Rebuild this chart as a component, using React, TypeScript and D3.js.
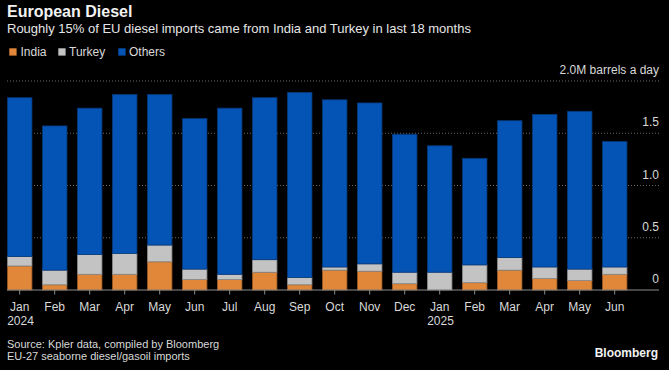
import React from 'react'
import { scaleBand, scaleLinear, stack } from 'd3'

const months = ['Jan', 'Feb', 'Mar', 'Apr', 'May', 'Jun', 'Jul', 'Aug', 'Sep', 'Oct', 'Nov', 'Dec',
  'Jan', 'Feb', 'Mar', 'Apr', 'May', 'Jun']
const years = ['2024', '', '', '', '', '', '', '', '', '', '', '', '2025', '', '', '', '', '']

// million barrels a day
const india = [0.23, 0.05, 0.15, 0.15, 0.27, 0.10, 0.10, 0.17, 0.05, 0.19, 0.18, 0.06, 0, 0.07, 0.19, 0.11, 0.09, 0.15]
const turkey = [0.09, 0.14, 0.19, 0.20, 0.16, 0.10, 0.05, 0.12, 0.07, 0.03, 0.07, 0.11, 0.17, 0.17, 0.12, 0.11, 0.11, 0.07]
const others = [1.52, 1.38, 1.40, 1.52, 1.44, 1.44, 1.59, 1.55, 1.77, 1.60, 1.54, 1.32, 1.21, 1.02, 1.31, 1.46, 1.51, 1.20]

const yTicks = [0, 0.5, 1.0, 1.5, 2.0]

const keys = ['India', 'Turkey', 'Others']
const colors = { India: '#e0873a', Turkey: '#c3c3c3', Others: '#0454b6' }
const strokes = { India: '#9a5a24', Turkey: '#8a8a8a', Others: '#06387a' }

const font = '"Liberation Sans", Arial, sans-serif'

export default function App() {
  const W = 669
  const H = 370

  const rows = months.map((m, i) => ({ idx: String(i), India: india[i], Turkey: turkey[i], Others: others[i] }))
  const series = stack().keys(keys)(rows as any)

  const x = scaleBand()
    .domain(rows.map(r => r.idx))
    .range([2.2, 632.2])
    .paddingInner(0.3)
    .paddingOuter(0.15)

  const y = scaleLinear().domain([0, 2.0]).range([290, 81])

  return (
    <svg width={W} height={H} style={{ position: 'absolute', left: 0, top: 0, background: '#000' }}
      fontFamily={font}>
      <rect width={W} height={H} fill="#000" />

      <text x={7} y={17} fill="#f2f2f2" fontSize={16} fontWeight="bold">European Diesel</text>
      <text x={7} y={33} fill="#e6e6e6" fontSize={13}>
        Roughly 15% of EU diesel imports came from India and Turkey in last 18 months
      </text>

      {/* legend */}
      {[{ k: 'India', sx: 9.3, tx: 20.5 }, { k: 'Turkey', sx: 58.3, tx: 69 }, { k: 'Others', sx: 118.3, tx: 129 }].map(l => (
        <g key={l.k}>
          <rect x={l.sx} y={48.3} width={7.3} height={7.3} fill={colors[l.k]} />
          <text x={l.tx} y={56} fill="#d9d9d9" fontSize={12}>{l.k}</text>
        </g>
      ))}

      {/* gridlines */}
      {yTicks.filter(t => t > 0).map(t => (
        <line key={t} x1={7} x2={661} y1={y(t)} y2={y(t)} stroke="#6a6a6a" strokeWidth={1}
          strokeDasharray="1,2" />
      ))}

      {/* bars */}
      {series.map(s => (
        <g key={s.key}>
          {s.map((d, i) => (
            d[1] - d[0] > 0 ? (
              <rect key={i}
                x={x(String(i))}
                y={y(d[1])}
                width={x.bandwidth()}
                height={y(d[0]) - y(d[1])}
                fill={colors[s.key]}
                stroke={strokes[s.key]}
                strokeWidth={0.8}
              />
            ) : null
          ))}
        </g>
      ))}

      {/* baseline and ticks */}
      <line x1={7} x2={659} y1={y(0)} y2={y(0)} stroke="#8c8c8c" strokeWidth={1} />
      {rows.map((r, i) => (
        <g key={i} transform={`translate(${x(r.idx) + x.bandwidth() / 2},0)`}>
          <line y1={y(0)} y2={y(0) + 4.5} stroke="#8c8c8c" />
          <text y={311} textAnchor="middle" fill="#d9d9d9" fontSize={12}>{months[i]}</text>
          {years[i] && (
            <text x={-12.5} y={325} fill="#d9d9d9" fontSize={12}>{years[i]}</text>
          )}
        </g>
      ))}

      {/* y labels */}
      {yTicks.map(t => (
        <text key={t} x={659} y={y(t) - 7} textAnchor="end" fill="#d9d9d9" fontSize={12}>
          {t === 2 ? '2.0M barrels a day' : t === 0 ? '0' : t.toFixed(1)}
        </text>
      ))}

      <text x={7} y={348} fill="#d9d9d9" fontSize={11}>Source: Kpler data, compiled by Bloomberg</text>
      <text x={7} y={360} fill="#d9d9d9" fontSize={11}>EU-27 seaborne diesel/gasoil imports</text>
      <text x={658} y={357} textAnchor="end" fill="#f2f2f2" fontSize={12} fontWeight="bold">Bloomberg</text>
    </svg>
  )
}
